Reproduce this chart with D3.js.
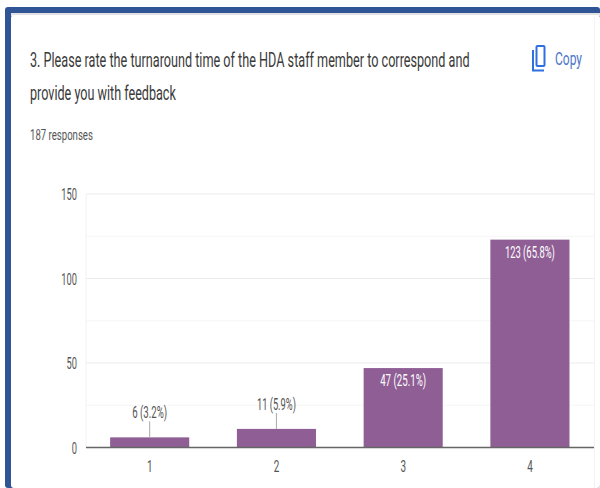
<!DOCTYPE html>
<html>
<head>
<meta charset="utf-8">
<script src="https://cdn.jsdelivr.net/npm/d3@7"></script>
<style>
  html, body { margin: 0; padding: 0; background: #fff; }
  svg { display: block; }
  text { font-family: Roboto, "Liberation Sans", sans-serif; }
</style>
</head>
<body>
<svg id="chart" width="600" height="488"></svg>
<script>
const categories = ["1", "2", "3", "4"];
const counts = [6, 11, 47, 123];
const valueLabels = ["6 (3.2%)", "11 (5.9%)", "47 (25.1%)", "123 (65.8%)"];
const majorTicks = [0, 50, 100, 150];
const gridTicks = [25, 50, 75, 100, 125, 150];
const titleLines = [
  "3. Please rate the turnaround time of the HDA staff member to correspond and",
  "provide you with feedback"
];
const responsesText = "187 responses";

const svg = d3.select("#chart");
const plot = { left: 86, right: 594, top: 194, bottom: 447.5 };

const x = d3.scaleBand().domain(categories).range([plot.left + 0.3, plot.right - 0.7]).paddingInner(0.376).paddingOuter(0.188);
const y = d3.scaleLinear().domain([0, 150]).range([plot.bottom, plot.top]);

// Card frame: blue edge on the top and left, with a thin grey shadow under the top edge
svg.append("rect").attr("x", 5).attr("y", 7).attr("width", 595).attr("height", 481).attr("rx", 3).attr("fill", "#2f5597");
svg.append("rect").attr("x", 11).attr("y", 13).attr("width", 589).attr("height", 3).attr("fill", "#e2e2e2");
svg.append("rect").attr("x", 11).attr("y", 15).attr("width", 589).attr("height", 473).attr("rx", 3).attr("fill", "#ffffff");
svg.append("line").attr("x1", 594.5).attr("x2", 594.5).attr("y1", 16).attr("y2", 488).attr("stroke", "#f3f3f3");

// Places a left-aligned text and squeezes it horizontally to the given width
function condensed(sel, left, baseline, width) {
  sel.attr("x", 0).attr("y", 0);
  const natural = sel.node().getComputedTextLength();
  sel.attr("transform", `translate(${left},${baseline}) scale(${width / natural},1)`);
  return sel;
}

// Heading
const titleWidths = [440, 146];
const titleBaselines = [67, 100];
titleLines.forEach((line, i) => {
  condensed(svg.append("text").attr("font-size", 20).attr("fill", "#3a3a3a").text(line),
    30, titleBaselines[i], titleWidths[i]);
});
condensed(svg.append("text").attr("font-size", 15.5).attr("fill", "#555").text(responsesText), 30, 140, 63);

// Copy button
const copy = svg.append("g").attr("fill", "none").attr("stroke", "#2f6fe0").attr("stroke-width", 2);
copy.append("rect").attr("x", 536.5).attr("y", 46).attr("width", 8).attr("height", 20).attr("rx", 1);
copy.append("path").attr("d", "M 533 50 V 70.5 H 544");
condensed(svg.append("text").attr("font-size", 18).attr("fill", "#4a76c8").text("Copy"), 555, 65, 27);

// Horizontal gridlines, every 25 with the majors slightly stronger
svg.append("g").selectAll("line").data(gridTicks).join("line")
  .attr("x1", plot.left).attr("x2", plot.right)
  .attr("y1", d => y(d)).attr("y2", d => y(d))
  .attr("stroke", d => d % 50 === 0 ? "#ebebeb" : "#f6f6f6");
svg.append("line")
  .attr("x1", plot.left).attr("x2", plot.left)
  .attr("y1", plot.top).attr("y2", plot.bottom)
  .attr("stroke", "#f2f2f2");

// Bars
svg.append("g").selectAll("rect").data(counts).join("rect")
  .attr("x", (d, i) => x(categories[i]))
  .attr("y", d => y(d))
  .attr("width", x.bandwidth())
  .attr("height", d => y(0) - y(d))
  .attr("fill", "#8f5e95");

// Baseline
svg.append("line")
  .attr("x1", plot.left).attr("x2", plot.right)
  .attr("y1", y(0)).attr("y2", y(0))
  .attr("stroke", "#666").attr("stroke-width", 1.5);

// Axis labels, in the same narrow setting as the rest of the text
const yG = svg.append("g").attr("transform", `translate(${plot.left},0)`)
  .call(d3.axisLeft(y).tickValues(majorTicks).tickSize(0));
yG.select(".domain").remove();
yG.selectAll("text").attr("x", 0).attr("font-size", 16).attr("fill", "#555")
  .attr("transform", "translate(-9,0.5) scale(0.58,1)");

const xG = svg.append("g").attr("transform", `translate(0,${plot.bottom})`)
  .call(d3.axisBottom(x).tickSize(0).tickPadding(13));
xG.select(".domain").remove();
xG.selectAll("text").attr("font-size", 16).attr("fill", "#555")
  .attr("transform", "scale(0.62,1)");

// Value labels: above short bars on a leader line, inside tall ones
const insideFrom = 40;
const labelWidths = [35, 39, 46, 50];
const labelled = svg.append("g");
counts.forEach((v, i) => {
  const cx = x(categories[i]) + x.bandwidth() / 2;
  const inside = v >= insideFrom;
  if (!inside) {
    labelled.append("line")
      .attr("x1", cx).attr("x2", cx)
      .attr("y1", y(v)).attr("y2", y(v) - 16)
      .attr("stroke", "#aaa");
  }
  condensed(labelled.append("text")
    .attr("font-size", 16)
    .attr("fill", inside ? "#ffffff" : "#555")
    .text(valueLabels[i]),
    cx - labelWidths[i] / 2,
    inside ? y(v) + 18 : y(v) - 19,
    labelWidths[i]);
});
</script>
</body>
</html>
